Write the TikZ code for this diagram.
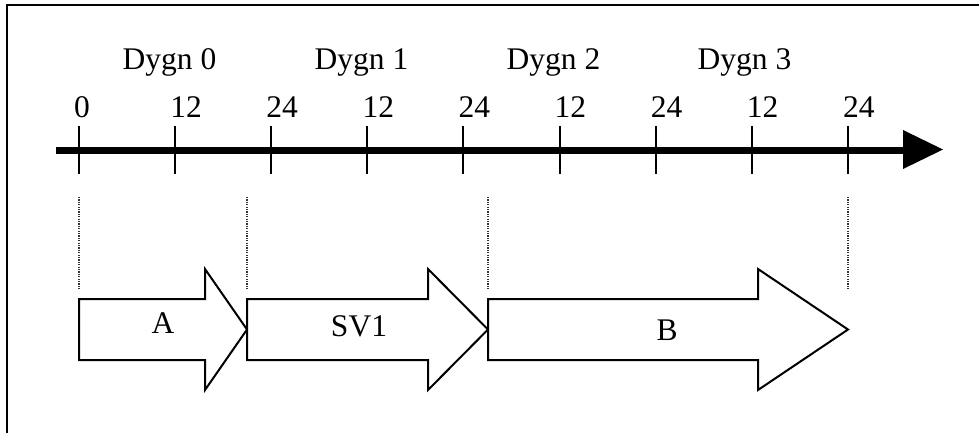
\documentclass[tikz,border=0pt]{standalone}
\usepackage{fontspec}
\setmainfont{Liberation Serif}
\begin{document}
\begin{tikzpicture}[x=1pt,y=-1pt,
  lbl/.style={font=\fontsize{31.5}{36}\selectfont, inner sep=0pt},
  tickmark/.style={line width=2pt},
  guide/.style={dash pattern=on 1.2pt off 1.2pt, line width=1.2pt, black!80},
  blockarrow/.style={draw, line width=2pt, fill=white, line join=miter}]
\useasboundingbox (0,0) rectangle (979,432);
% frame (cropped)
\draw[line width=2.4pt] (7,445) -- (7,5) -- (995,5);
% axis
\coordinate (ax0) at (56,150);
\coordinate (ax1) at (905,150);
\draw[line width=7pt] (ax0) -- (ax1);
\fill (903,130) -- (943,149.5) -- (903,169) -- cycle;
% ticks and tick labels
\foreach \i/\t in {0/0,1/12,2/24,3/12,4/24,5/12,6/24,7/12,8/24} {
  \pgfmathsetmacro{\xx}{79+\i*96.1}
  \coordinate (tt\i) at (\xx,126);
  \coordinate (tb\i) at (\xx,174);
  \draw[tickmark] (tt\i) -- (tb\i);
  \node[lbl, anchor=base west] (tl\i) at (\xx-5,117) {\t};
}
% day labels
\foreach \d/\x in {0/122.5,1/314.5,2/506.5,3/697.5} {
  \node[lbl, anchor=base west] (dygn\d) at (\x,69.5) {Dygn \d};
}
% dotted guides
\foreach \g/\x in {1/79,2/247,3/488,4/848} {
  \coordinate (gt\g) at (\x,197);
  \coordinate (gb\g) at (\x,290);
  \draw[guide] (gt\g) -- (gb\g);
}
% block arrows
\draw[blockarrow] (79,299) -- (205,299) -- (205,269) -- (247,329.5) -- (205,390) -- (205,360) -- (79,360) -- cycle;
\draw[blockarrow] (247,299) -- (428,299) -- (428,269) -- (488,329.5) -- (428,390) -- (428,360) -- (247,360) -- cycle;
\draw[blockarrow] (488,299) -- (758,299) -- (758,269) -- (848,329.5) -- (758,390) -- (758,360) -- (488,360) -- cycle;
\node[lbl, anchor=base] (labA) at (163,333) {A};
\node[lbl, anchor=base] (labSV) at (359,336) {SV1};
\node[lbl, anchor=base] (labB) at (667,340) {B};
\end{tikzpicture}
\end{document}
